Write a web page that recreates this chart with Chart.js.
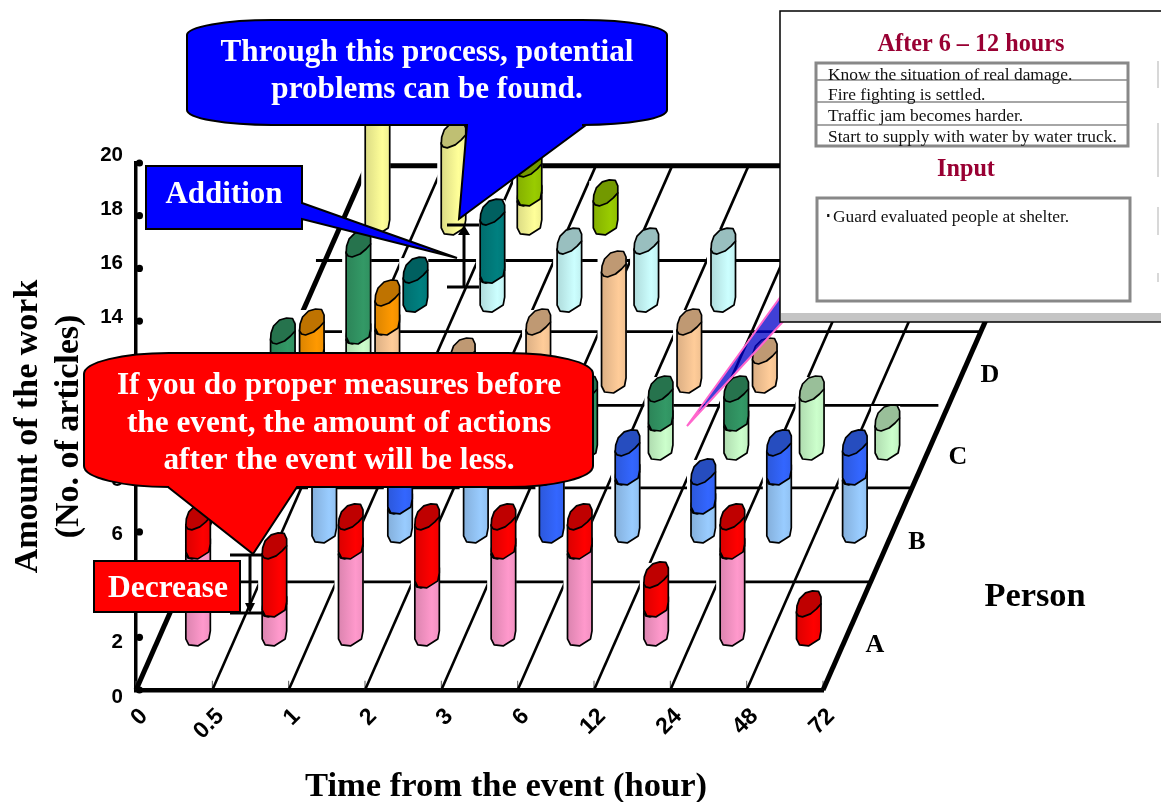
<!DOCTYPE html>
<html>
<head>
<meta charset="utf-8">
<title>Amount of the work</title>
<script src="https://cdn.jsdelivr.net/npm/chart.js@4"></script>
<style>
  html, body { margin: 0; padding: 0; background: #fff; overflow: hidden; }
  canvas { display: block; }
</style>
</head>
<body>
<canvas id="workChart" width="1161" height="802"></canvas>
<script>
// chart values
const timeLabels = ['0', '0.5', '1', '2', '3', '6', '12', '24', '48', '72'];
const yTicks = [0, 2, 4, 6, 8, 10, 12, 14, 16, 18, 20];
const persons = ['A', 'B', 'C', 'D', 'E', 'F'];

// articles per time slot, lower = pale part, upper = saturated part
const lowerA = [3, 1, 3, 2, 3, 3, 1, 3, 0];
const upperA = [1, 2, 1, 2, 1, 1, 1, 1, 1];
const lowerB = [0, 2, 1, 2, 0, 2, 1, 2, 2];
const upperB = [0, 1, 1, 1, 2, 1, 1, 1, 1];
const lowerC = [3, 4, 0, 0, 0, 1, 1, 2, 1];
const upperC = [1, 3, 0, 0, 2, 1, 1, 0, 0];
const lowerD = [1, 2, 1, 2, 4, 2, 1, 0, 0];
const upperD = [1, 1, 0, 0, 0, 0, 0, 0, 0];
const lowerE = [0, 0, 1, 2, 2, 2, 0, 0, 0];
const upperE = [0, 1, 2, 0, 0, 0, 0, 0, 0];
const lowerF = [5, 3, 1, 0, 0, 0, 0, 0, 0];
const upperF = [0, 0, 1, 1, 0, 0, 0, 0, 0];

// floor of the fake 3D box, in y axis units
const floorRows = [4.1, 7.67, 10.8, 13.6, 16.3];
const floorTrim = [0, 0, 0.13, 0, 0];
const floorBack = 19.9;
const shear = 0.152; // x units per y unit

// where each person's row of columns stands
const rowStart = [0.81, 1.47, 1.92, 2.3, 2.65, 3.16];
const rowStep = [1.0, 0.993, 0.99, 0.989, 1.008, 0.996];
const rowBase = [1.52, 5.07, 7.93, 10.24, 13.03, 15.69];

const paleColors = ['#FF99CC', '#99CCFF', '#CCFFCC', '#FFCC99', '#CCFFFF', '#FFFF99'];
const darkColors = ['#FF0000', '#3366FF', '#339966', '#FF9900', '#008080', '#99CC00'];
const lowerRows = [lowerA, lowerB, lowerC, lowerD, lowerE, lowerF];
const upperRows = [upperA, upperB, upperC, upperD, upperE, upperF];

const SERIF = '"Liberation Serif", "Times New Roman", serif';
const SANS = '"Liberation Sans", Arial, sans-serif';

function shade(hex, k) {
  const n = parseInt(hex.slice(1), 16);
  const c = [n >> 16, (n >> 8) & 255, n & 255].map(v => Math.round(v * k));
  return `rgb(${c[0]},${c[1]},${c[2]})`;
}

function line(points, width, order) {
  return { type: 'scatter', showLine: true, data: points, borderColor: '#000', borderWidth: width,
    pointRadius: 0, clip: false, order: order, xAxisID: 'x', yAxisID: 'y' };
}

function buildDatasets() {
  const sets = [];
  // depth lines
  timeLabels.forEach((t, i) => {
    const edge = i === 0 || i === timeLabels.length - 1;
    sets.push(line([{ x: i, y: 0 }, { x: i + shear * floorBack, y: floorBack }], edge ? 5 : 2.6, 100));
  });
  // row lines
  floorRows.forEach((d, i) => {
    sets.push(line([{ x: d * shear - 0.12, y: d }, { x: 9 + d * shear - floorTrim[i], y: d }], 2.8, 100));
  });
  sets.push(line([{ x: floorBack * shear, y: floorBack }, { x: 9 + floorBack * shear, y: floorBack }], 5, 100));
  // small ticks on the front edge
  const ticks = [];
  timeLabels.forEach((t, i) => ticks.push({ x: i, y: 0 }, { x: i, y: 0.35 }, { x: null, y: null }));
  sets.push(Object.assign(line(ticks, 1, 100), { borderColor: '#555' }));
  // dots on the y axis
  sets.push({ type: 'scatter', data: yTicks.map(v => ({ x: 0.045, y: v })), pointRadius: 3.6,
    pointBackgroundColor: '#000', pointBorderWidth: 0, clip: false, order: 99, xAxisID: 'x', yAxisID: 'y' });
  // columns, back row first
  persons.forEach((p, r) => {
    const lowers = [], uppers = [];
    lowerRows[r].forEach((lo, s) => {
      const x = rowStart[r] + s * rowStep[r];
      const hi = upperRows[r][s];
      if (lo) lowers.push({ x: x, y: [rowBase[r], rowBase[r] + lo] });
      if (hi) uppers.push({ x: x, y: [rowBase[r] + lo, rowBase[r] + lo + hi] });
    });
    const common = { type: 'bar', barThickness: 24, grouped: false, clip: false, xAxisID: 'x', yAxisID: 'yBar', cylinder: true };
    sets.push(Object.assign({ label: p + ' pale', data: lowers, backgroundColor: paleColors[r], order: 60 - r * 10 + 1 }, common));
    sets.push(Object.assign({ label: p, data: uppers, backgroundColor: darkColors[r], order: 60 - r * 10 }, common));
  });
  return sets;
}

// tilted cap and slanted foot of a column
const capShape = [[0, -4], [0.5, -11], [3, -18], [9, -24], [16, -26], [22, -25.5], [24.5, -20], [24.5, -13], [20, -8], [14, -3], [6, 0], [2, -1]];
const footShape = [[0, -7], [3, -1], [12, 0], [23, -7], [24.5, -15]];

function drawCylinder(ctx, el, color) {
  const L = el.x - 12, T = el.y, B = el.base;
  const grad = ctx.createLinearGradient(L, 0, L + 24.5, 0);
  grad.addColorStop(0, shade(color, 0.86));
  grad.addColorStop(0.7, color);
  grad.addColorStop(1, shade(color, 0.94));
  ctx.lineWidth = 1.7;
  ctx.lineJoin = 'round';
  ctx.strokeStyle = '#000';
  ctx.beginPath();
  ctx.moveTo(L, T - 5);
  footShape.forEach(p => ctx.lineTo(L + p[0], B + p[1]));
  ctx.lineTo(L + 24.5, T - 13);
  ctx.closePath();
  ctx.fillStyle = grad;
  ctx.fill();
  ctx.stroke();
  ctx.beginPath();
  capShape.forEach((p, i) => i ? ctx.lineTo(L + p[0], T + p[1]) : ctx.moveTo(L + p[0], T + p[1]));
  ctx.closePath();
  ctx.fillStyle = shade(color, 0.75);
  ctx.fill();
  ctx.stroke();
}

// the columns were pasted in with a white margin that cuts the floor lines
function drawMargins(chart) {
  const ctx = chart.ctx;
  ctx.fillStyle = '#fff';
  chart.data.datasets.forEach((ds, i) => {
    if (!ds.cylinder) return;
    chart.getDatasetMeta(i).data.forEach(el => {
      ctx.fillRect(el.x - 16, el.y - 25, 29, el.base - el.y + 18);
    });
  });
}

let marginsDone = false;
const cylinderPlugin = {
  id: 'cylinders',
  beforeDraw() { marginsDone = false; },
  beforeDatasetDraw(chart, args) {
    const ds = chart.data.datasets[args.index];
    if (!ds.cylinder) return;
    const ctx = chart.ctx;
    ctx.save();
    if (!marginsDone) { drawMargins(chart); marginsDone = true; }
    args.meta.data.forEach(el => drawCylinder(ctx, el, ds.backgroundColor));
    ctx.restore();
    return false;
  }
};

function text(ctx, str, x, y, font, color, align) {
  ctx.font = font;
  ctx.fillStyle = color;
  ctx.textAlign = align || 'center';
  ctx.textBaseline = 'middle';
  ctx.fillText(str, x, y);
}

// rounded box with a wedge on its bottom edge
function callout(ctx, l, t, r, b, rx, ry, tail, fill) {
  ctx.beginPath();
  ctx.moveTo(l + rx, t);
  ctx.lineTo(r - rx, t);
  ctx.ellipse(r - rx, t + ry, rx, ry, 0, -Math.PI / 2, 0);
  ctx.lineTo(r, b - ry);
  ctx.ellipse(r - rx, b - ry, rx, ry, 0, 0, Math.PI / 2);
  tail.slice().reverse().forEach(p => ctx.lineTo(p[0], p[1]));
  ctx.lineTo(l + rx, b);
  ctx.ellipse(l + rx, b - ry, rx, ry, 0, Math.PI / 2, Math.PI);
  ctx.lineTo(l, t + ry);
  ctx.ellipse(l + rx, t + ry, rx, ry, 0, Math.PI, Math.PI * 1.5);
  ctx.closePath();
  ctx.fillStyle = fill;
  ctx.fill();
  ctx.lineWidth = 2;
  ctx.strokeStyle = '#000';
  ctx.stroke();
}

function poly(ctx, pts, fill, stroke, width) {
  ctx.beginPath();
  pts.forEach((p, i) => i ? ctx.lineTo(p[0], p[1]) : ctx.moveTo(p[0], p[1]));
  ctx.closePath();
  if (fill) { ctx.fillStyle = fill; ctx.fill(); }
  if (stroke) { ctx.strokeStyle = stroke; ctx.lineWidth = width; ctx.stroke(); }
}

function seg(ctx, x1, y1, x2, y2, w) {
  ctx.beginPath();
  ctx.moveTo(x1, y1);
  ctx.lineTo(x2, y2);
  ctx.strokeStyle = '#000';
  ctx.lineWidth = w;
  ctx.stroke();
}

const notesPlugin = {
  id: 'notes',
  afterDraw(chart) {
    const ctx = chart.ctx;
    ctx.save();
    // person letters and captions
    const letters = [[875, 645], [917, 542], [958, 457], [990, 375]];
    letters.forEach((p, i) => text(ctx, persons[i], p[0], p[1], 'bold 26px ' + SERIF, '#000'));
    text(ctx, 'Person', 1035, 597, 'bold 34.4px ' + SERIF, '#000');
    text(ctx, 'Time from the event (hour)', 506, 787, 'bold 34.6px ' + SERIF, '#000');

    // addition marker
    seg(ctx, 447, 225, 479, 225, 3);
    seg(ctx, 447, 287, 479, 287, 3);
    seg(ctx, 464, 232, 464, 287, 3);
    poly(ctx, [[464, 225], [458, 235], [470, 235]], '#000');
    // decrease marker
    seg(ctx, 230, 555, 262, 555, 3);
    seg(ctx, 230, 613, 262, 613, 3);
    seg(ctx, 250, 555, 250, 606, 3);
    poly(ctx, [[250, 613], [245, 603], [255, 603]], '#000');

    // addition box
    poly(ctx, [[146, 166], [302, 166], [302, 203], [457, 258], [302, 219], [302, 229], [146, 229]], '#0000FF', '#000', 2);
    text(ctx, 'Addition', 224, 195, 'bold 31px ' + SERIF, '#fff');
    // decrease box
    poly(ctx, [[94, 561], [240, 561], [240, 612], [94, 612]], '#FF0000', '#000', 2);
    text(ctx, 'Decrease', 168, 589, 'bold 31.5px ' + SERIF, '#fff');

    // blue bubble
    callout(ctx, 187, 20, 667, 125, 85, 15, [[467, 125], [459, 219], [586, 125]], '#0000FF');
    text(ctx, 'Through this process, potential', 427, 53, 'bold 31.2px ' + SERIF, '#fff');
    text(ctx, 'problems can be found.', 427, 90, 'bold 31.2px ' + SERIF, '#fff');
    // red bubble
    callout(ctx, 84, 353, 593, 487, 85, 21, [[168, 487], [253, 554], [297, 487]], '#FF0000');
    text(ctx, 'If you do proper measures before', 339, 386, 'bold 31.3px ' + SERIF, '#fff');
    text(ctx, 'the event, the amount of actions', 339, 424, 'bold 31.3px ' + SERIF, '#fff');
    text(ctx, 'after the event will be less.', 339, 461, 'bold 31.3px ' + SERIF, '#fff');

    // wedge from the pasted panel
    poly(ctx, [[687, 426], [784, 292], [790, 314]], 'rgba(0,0,200,0.75)', '#FF66CC', 2);

    // pasted panel
    ctx.fillStyle = '#fff';
    ctx.fillRect(780, 11, 381, 311);
    ctx.fillStyle = '#c4c4c4';
    ctx.fillRect(781, 313, 380, 9);
    ctx.fillStyle = '#d8d8d8';
    [[1157, 61, 27], [1157, 123, 54], [1157, 207, 28], [1157, 273, 9]].forEach(b => ctx.fillRect(b[0], b[1], 2, b[2]));
    ctx.strokeStyle = '#000';
    ctx.lineWidth = 1.5;
    ctx.strokeRect(780, 11, 385, 311);
    ctx.strokeStyle = '#888';
    ctx.lineWidth = 3;
    ctx.strokeRect(816, 63, 312, 83);
    ctx.strokeRect(817, 198, 313, 103);
    ctx.lineWidth = 1.5;
    [80, 102, 125].forEach(y => { ctx.beginPath(); ctx.moveTo(816, y); ctx.lineTo(1128, y); ctx.stroke(); });
    text(ctx, 'After 6 – 12 hours', 971, 45, 'bold 24.2px ' + SERIF, '#990033');
    text(ctx, 'Input', 966, 170, 'bold 24.2px ' + SERIF, '#990033');
    const tableRows = ['Know the situation of real damage.', 'Fire fighting is settled.', 'Traffic jam becomes harder.', 'Start to supply with water by water truck.'];
    [75, 95, 116, 137].forEach((y, i) => text(ctx, tableRows[i], 828, y, '17.4px ' + SERIF, '#111', 'left'));
    text(ctx, '･Guard evaluated people at shelter.', 824, 217, '17.4px ' + SERIF, '#111', 'left');
    ctx.restore();
  }
};

new Chart(document.getElementById('workChart'), {
  data: { datasets: buildDatasets() },
  plugins: [cylinderPlugin, notesPlugin],
  options: {
    responsive: false,
    animation: false,
    layout: { padding: { top: 163, right: 338, left: 0, bottom: 0 } },
    plugins: { legend: { display: false }, tooltip: { enabled: false } },
    scales: {
      x: {
        type: 'linear', min: 0, max: 9, offset: false,
        grid: { display: false, offset: false },
        border: { color: '#000', width: 4.5 },
        afterFit: s => { s.height = 112; },
        ticks: {
          stepSize: 1, autoSkip: false, maxRotation: 45, minRotation: 45, labelOffset: 8, padding: 5,
          color: '#000', font: { family: SANS, weight: 'bold', size: 23 },
          callback: v => timeLabels[v]
        }
      },
      y: {
        axis: 'y', position: 'left', weight: 0, min: 0, max: 20,
        grid: { display: false },
        border: { color: '#000', width: 3.5 },
        ticks: { display: false },
        afterFit: s => { s.width = 0; }
      },
      // the printed numbers sit a little off the dots, so they get their own scale
      yLabels: {
        axis: 'y', position: 'left', weight: 1, min: 0.258, max: 19.71,
        grid: { display: false },
        border: { display: false },
        afterFit: s => { s.width = 136; },
        afterBuildTicks: s => { s.ticks = yTicks.map(v => ({ value: v })); },
        ticks: { autoSkip: false, padding: 5, color: '#000', font: { family: SANS, weight: 'bold', size: 20.5 } },
        title: { display: true, text: ['Amount of the work', '(No. of articles)'], color: '#000',
          padding: { top: 8, bottom: 0 }, font: { family: SERIF, weight: 'bold', size: 34 }, align: 'center' }
      },
      yBar: { axis: 'y', display: false, min: 0, max: 18.17 }
    }
  }
});
</script>
</body>
</html>
